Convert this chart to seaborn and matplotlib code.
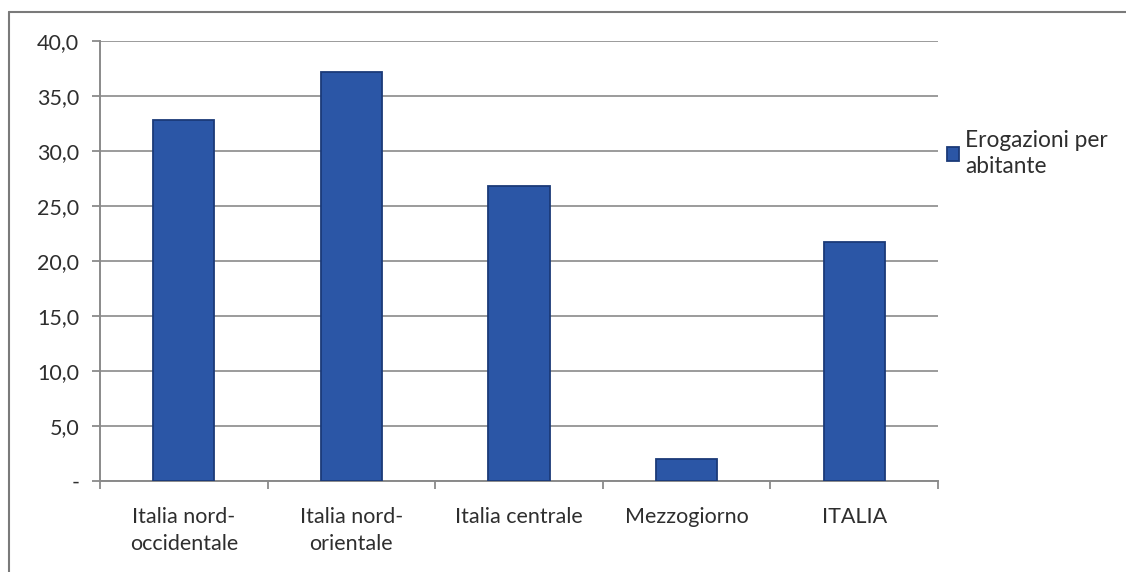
import matplotlib
matplotlib.use("Agg")
import matplotlib.pyplot as plt
import seaborn as sns
from matplotlib.lines import Line2D
from matplotlib.ticker import FixedLocator

categories = ["Italia nord-\noccidentale", "Italia nord-\norientale", "Italia centrale", "Mezzogiorno", "ITALIA"]
values = [32.8, 37.2, 26.8, 2.0, 21.7]
series_label = "Erogazioni per\nabitante"
y_ticks = [0, 5, 10, 15, 20, 25, 30, 35, 40]
y_tick_labels = ["-", "5,0", "10,0", "15,0", "20,0", "25,0", "30,0", "35,0", "40,0"]

sns.set_theme(style="white")
plt.rcParams["font.family"] = ["Lato", "DejaVu Sans"]

fig = plt.figure(figsize=(11.26, 5.72), dpi=100)
ax = fig.add_axes([100/1126, 1-481/572, 838/1126, 440/572])

grid_c = "#8a8a8a"
text_c = "#2e2e2e"
fs = 15.5

ax.yaxis.grid(True, color=grid_c, linewidth=1.2, zorder=0)
ax.set_axisbelow(True)

sns.barplot(x=categories, y=values, color="#2b56a6", saturation=1, width=0.365, ax=ax,
            edgecolor="#1b3a78", linewidth=1.3, label=series_label, zorder=3)

ax.set_ylim(0, 40)
ax.set_xlim(-0.5, len(categories) - 0.5)
ax.set_yticks(y_ticks)
ax.set_yticklabels(y_tick_labels)
ax.set_xlabel("")
ax.set_ylabel("")

for s in ["top", "right"]:
    ax.spines[s].set_visible(False)
for s in ["left", "bottom"]:
    ax.spines[s].set_visible(True)
    ax.spines[s].set_color(grid_c)
    ax.spines[s].set_linewidth(1.4)

ax.tick_params(axis="y", which="major", direction="out", length=6, width=1.3,
               color=grid_c, pad=9, labelsize=fs, labelcolor=text_c, left=True)
ax.tick_params(axis="x", which="major", length=0, pad=19, labelsize=fs, labelcolor=text_c)
for t in ax.get_xticklabels():
    t.set_linespacing(1.4)
ax.xaxis.set_minor_locator(FixedLocator([i - 0.5 for i in range(len(categories) + 1)]))
ax.tick_params(axis="x", which="minor", direction="out", length=6, width=1.3, color=grid_c, bottom=True)

leg = ax.legend(loc="upper left", bbox_to_anchor=(947/1126, 1-130/572),
                bbox_transform=fig.transFigure, frameon=False, fontsize=16.3,
                borderaxespad=0, borderpad=0,
                handlelength=0.55, handleheight=0.55, handletextpad=0.25, labelcolor=text_c)
for t in leg.get_texts():
    t.set_linespacing(1.3)

# outer frame of the original chart area
fig.add_artist(Line2D([9/1126, 9/1126], [0, 1-12/572], transform=fig.transFigure, color="#7a7a7a", linewidth=1.5))
fig.add_artist(Line2D([9/1126, 1], [1-12/572, 1-12/572], transform=fig.transFigure, color="#7a7a7a", linewidth=1.5))

fig.savefig("out.png", dpi=100, facecolor="white")
